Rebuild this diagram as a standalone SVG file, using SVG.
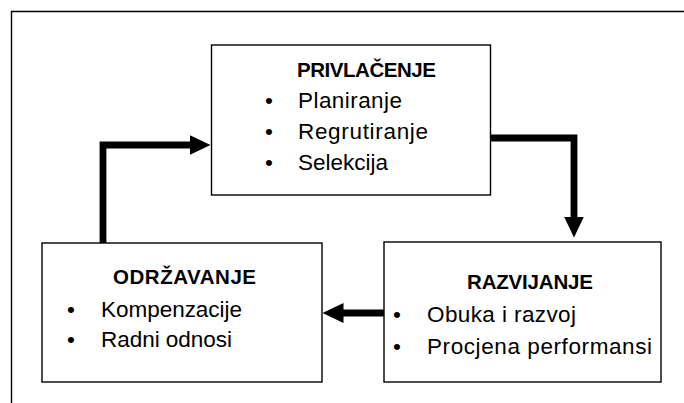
<svg xmlns="http://www.w3.org/2000/svg" width="684" height="403" viewBox="0 0 684 403">
  <style>
    .box { fill: #ffffff; stroke: #000000; stroke-width: 1.4; }
    .frame { fill: none; stroke: #000000; stroke-width: 1.4; }
    .t { font-family: "Liberation Sans", Arial, sans-serif; font-size: 22.5px; fill: #000000; }
    .h { font-weight: bold; font-size: 20.5px; }
    .conn { fill: none; stroke: #000000; stroke-width: 6.8; stroke-linejoin: miter; stroke-linecap: butt; }
  </style>
  <defs>
    <marker id="ah" markerUnits="userSpaceOnUse" viewBox="0 0 21 20" refX="0.5" refY="10" markerWidth="21" markerHeight="20" orient="auto">
      <polygon points="0,0 21,10 0,20" fill="#000000"/>
    </marker>
  </defs>
  <rect width="684" height="403" fill="#ffffff"/>
  <path class="frame" d="M11.5,403 V11.5 H684"/>

  <g id="connectors">
    <path class="conn" d="M103,243 V145 H190" marker-end="url(#ah)"/>
    <path class="conn" d="M490,138 H574 V217" marker-end="url(#ah)"/>
    <path class="conn" d="M384,313 H343" marker-end="url(#ah)"/>
  </g>

  <g id="privlacenje">
    <rect class="box" x="211.5" y="45" width="279" height="150"/>
    <text class="t h" x="297" y="77" textLength="139">PRIVLAČENJE</text>
    <text class="t" x="265" y="108">•</text>
    <text class="t" x="298" y="108" textLength="104">Planiranje</text>
    <text class="t" x="265" y="139">•</text>
    <text class="t" x="298" y="139" textLength="130">Regrutiranje</text>
    <text class="t" x="265" y="170">•</text>
    <text class="t" x="298" y="170" textLength="90">Selekcija</text>
  </g>

  <g id="odrzavanje">
    <rect class="box" x="42" y="243" width="280" height="139"/>
    <text class="t h" x="113" y="284" textLength="143">ODRŽAVANJE</text>
    <text class="t" x="67" y="316.5">•</text>
    <text class="t" x="101" y="316.5" textLength="141">Kompenzacije</text>
    <text class="t" x="67" y="347">•</text>
    <text class="t" x="101" y="347" textLength="131">Radni odnosi</text>
  </g>

  <g id="razvijanje">
    <rect class="box" x="384" y="242" width="277" height="140"/>
    <text class="t h" x="467" y="289" textLength="126">RAZVIJANJE</text>
    <text class="t" x="393" y="322">•</text>
    <text class="t" x="427" y="322" textLength="149">Obuka i razvoj</text>
    <text class="t" x="393" y="353.5">•</text>
    <text class="t" x="427" y="353.5" textLength="225">Procjena performansi</text>
  </g>
</svg>
